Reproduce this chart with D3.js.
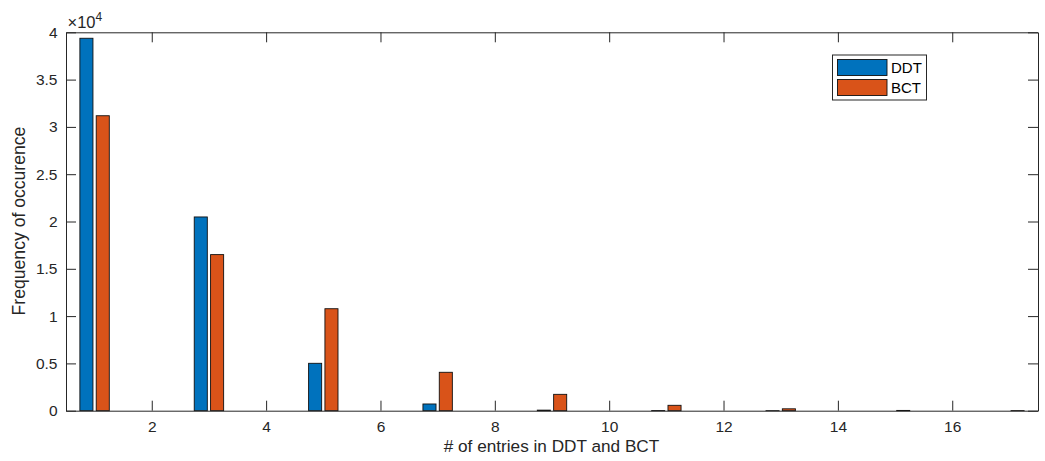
<!DOCTYPE html>
<html>
<head>
<meta charset="utf-8">
<script src="https://cdn.jsdelivr.net/npm/d3@7"></script>
<style>
  body { margin: 0; background: #fff; }
  svg { display: block; font-family: "Liberation Sans", Arial, Helvetica, sans-serif; }
</style>
</head>
<body>
<svg id="chart" width="1045" height="461"></svg>
<script>
// data
let categories = [1,2,3,4,5,6,7,8,9,10,11,12,13,14,15,16,17];
let ddt = [39370,0,20480,0,5010,0,710,0,60,0,15,0,5,0,0,0,0];
let bct = [31180,0,16500,0,10780,0,4060,0,1730,0,570,0,200,0,30,0,10];
let series_names = ["DDT","BCT"];
let colors = ["#0072BD","#D95319"];
let xticks = [2,4,6,8,10,12,14,16];
let yticks = [0,5000,10000,15000,20000,25000,30000,35000,40000];

let plot_left = 66, plot_right = 1038, plot_top = 32.3, plot_bottom = 410.7;
let axis_color = "#262626";
let tick_len = 10;

const svg = d3.select("#chart");

const x_scale = d3.scaleLinear()
      .domain([0.5, 17.5])
      .range([plot_left, plot_right]);

const y_scale = d3.scaleLinear()
      .domain([0, 40000])
      .range([plot_bottom, plot_top]);

// matlab grouped bar layout
let n = series_names.length;
let group_width = Math.min(0.8, n/(n+1.5));
let bar_w = 0.8*group_width/n;
let all_series = [ddt, bct];

all_series.forEach((vals, s) => {
  let offset = (s - (n-1)/2) * group_width/n;
  svg.append("g")
    .selectAll("rect")
    .data(vals)
    .enter()
    .append("rect")
    .attr("x", (d,i) => x_scale(categories[i]+offset-bar_w/2))
    .attr("width", x_scale(bar_w) - x_scale(0))
    .attr("y", d => y_scale(d))
    .attr("height", d => y_scale(0) - y_scale(d))
    .attr("fill", colors[s])
    .attr("stroke", "#111")
    .attr("stroke-width", 0.9);
});

// axes (ticks inward, box on)
const fmt_y = d => d3.format("~g")(d/10000);

svg.append("g")
  .attr("transform", `translate(${plot_left},0)`)
  .call(d3.axisLeft(y_scale).tickValues(yticks).tickFormat(fmt_y).tickSizeInner(-tick_len).tickSizeOuter(0).tickPadding(8.5));

svg.append("g")
  .attr("transform", `translate(${plot_right},0)`)
  .call(d3.axisRight(y_scale).tickValues(yticks).tickFormat("").tickSizeInner(-tick_len).tickSizeOuter(0));

svg.append("g")
  .attr("transform", `translate(0,${plot_bottom})`)
  .call(d3.axisBottom(x_scale).tickValues(xticks).tickFormat(d3.format("d")).tickSizeInner(-tick_len).tickSizeOuter(0).tickPadding(10.5));

svg.append("g")
  .attr("transform", `translate(0,${plot_top})`)
  .call(d3.axisTop(x_scale).tickValues(xticks).tickFormat("").tickSizeInner(-tick_len).tickSizeOuter(0));

svg.selectAll(".domain").attr("stroke", axis_color).attr("stroke-width", 1);
svg.selectAll(".tick line").attr("stroke", axis_color).attr("stroke-width", 1);
svg.selectAll(".tick text")
  .attr("fill", axis_color)
  .style("font-size", "15.5px")
  .style("font-family", "'Liberation Sans', Arial, sans-serif");

// exponent label
let expo = svg.append("text")
  .attr("x", plot_left+1.5)
  .attr("y", 28.3)
  .attr("fill", axis_color)
  .style("font-size", "16.5px");
expo.append("tspan").text("\u00d710");
expo.append("tspan").text("4").attr("dy", -7).style("font-size", "12px");

// axis labels
svg.append("text")
  .attr("x", 551.5)
  .attr("y", 452)
  .attr("text-anchor", "middle")
  .attr("fill", axis_color)
  .style("font-size", "17.2px")
  .text("# of entries in DDT and BCT");

svg.append("text")
  .attr("transform", `translate(25,221) rotate(-90)`)
  .attr("text-anchor", "middle")
  .attr("fill", axis_color)
  .style("font-size", "17.6px")
  .text("Frequency of occurence");

// legend
const legend = svg.append("g").attr("transform", "translate(832.5,55)");
legend.append("rect")
  .attr("width", 94)
  .attr("height", 45)
  .attr("fill", "#fff")
  .attr("stroke", axis_color)
  .attr("stroke-width", 1);

series_names.forEach((name, s) => {
  legend.append("rect")
    .attr("x", 5)
    .attr("y", 4.5 + s*20)
    .attr("width", 49.5)
    .attr("height", 16)
    .attr("fill", colors[s])
    .attr("stroke", "#111")
    .attr("stroke-width", 0.9);
  legend.append("text")
    .attr("x", 58.5)
    .attr("y", 18.3 + s*20)
    .attr("fill", "#000")
    .style("font-size", "15px")
    .text(name);
});
</script>
</body>
</html>
